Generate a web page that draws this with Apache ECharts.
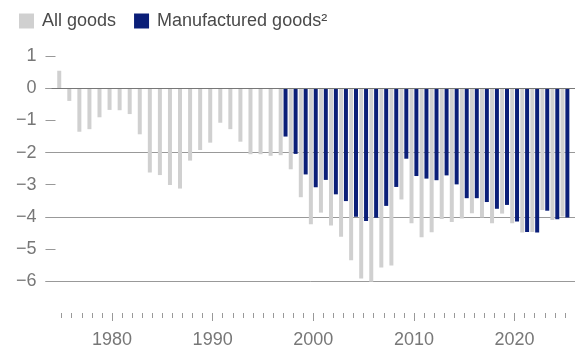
<!DOCTYPE html>
<html>
<head>
<meta charset="utf-8">
<script src="https://cdn.jsdelivr.net/npm/echarts@6/dist/echarts.min.js"></script>
<style>
    html, body { margin: 0; padding: 0; background: #fff; }
    #chart { width: 575px; height: 352px; }
</style>
</head>
<body>
<div id="chart"></div>
<script>
// years of the bars
const years = [
    "1975", "1976", "1977", "1978", "1979", "1980", "1981", "1982", "1983", "1984",
    "1985", "1986", "1987", "1988", "1989", "1990", "1991", "1992", "1993", "1994",
    "1995", "1996", "1997", "1998", "1999", "2000", "2001", "2002", "2003", "2004",
    "2005", "2006", "2007", "2008", "2009", "2010", "2011", "2012", "2013", "2014",
    "2015", "2016", "2017", "2018", "2019", "2020", "2021", "2022", "2023", "2024",
    "2025", "2026"
];

const allGoods = [
    0.55, -0.39, -1.35, -1.27, -0.90, -0.67, -0.68, -0.80, -1.43, -2.62,
    -2.70, -3.01, -3.12, -2.25, -1.92, -1.69, -1.07, -1.27, -1.66, -2.05,
    -2.05, -2.10, -2.08, -2.52, -3.39, -4.23, -3.87, -4.27, -4.62, -5.35,
    -5.92, -6.02, -5.58, -5.52, -3.46, -4.20, -4.64, -4.48, -4.07, -4.16,
    -4.05, -3.89, -4.02, -4.20, -3.90, -4.20, -4.49, -4.47, -3.79, -4.10,
    -3.99, null
];

const manufactured = [
    null, null, null, null, null, null, null, null, null, null,
    null, null, null, null, null, null, null, null, null, null,
    null, null, null, -1.50, -2.04, -2.68, -3.08, -2.85, -3.30, -3.51,
    -4.00, -4.13, -4.03, -3.66, -3.07, -2.19, -2.73, -2.81, -2.86, -2.71,
    -2.99, -3.42, -3.42, -3.54, -3.75, -3.63, -4.15, -4.47, -4.49, -3.81,
    -4.08, -4.02
];

// tick positions on the year axis (year ends), labels only on decades
const tickYears = ["1974"].concat(years);
const decadeLabels = ["1980", "1990", "2000", "2010", "2020"];
const yTicks = [-6, -5, -4, -3, -2, -1, 0, 1];

const GREY = "#d0d0d0";
const NAVY = "#0a1e78";
const FONT = "Liberation Sans, Arial, sans-serif";

const chart = echarts.init(document.getElementById("chart"));

const option = {
    animation: false,
    textStyle: { fontFamily: FONT },
    legend: {
        left: 14,
        top: 7,
        icon: "rect",
        itemWidth: 15,
        itemHeight: 15,
        itemGap: 18,
        data: ["All goods", "Manufactured goods²"],
        textStyle: { fontSize: 18, color: "#4a4a4a", padding: [0, 0, 0, 3] }
    },
    grid: [
        { left: 45.5, right: 0, top: 56.3, bottom: 71 },
        { left: 51.6, right: 0, top: 56.3, bottom: 71 }
    ],
    xAxis: [
        { gridIndex: 0, type: "value", show: false, min: 0, max: 1 },
        { gridIndex: 1, type: "category", data: years, show: false, position: "bottom" },
        {
            gridIndex: 1,
            type: "category",
            data: tickYears,
            boundaryGap: false,
            position: "bottom",
            offset: 32,
            axisLine: { show: false },
            axisTick: {
                show: true,
                length: 5,
                interval: (i, v) => v !== "1974" && v !== "2026",
                lineStyle: { color: "#999" }
            },
            axisLabel: { show: false },
            splitLine: { show: false }
        },
        {
            gridIndex: 1,
            type: "category",
            data: tickYears,
            boundaryGap: false,
            position: "bottom",
            offset: 32,
            axisLine: { show: false },
            axisTick: {
                show: true,
                length: 8,
                interval: (i, v) => decadeLabels.includes(v),
                lineStyle: { color: "#999" }
            },
            axisLabel: {
                interval: (i, v) => decadeLabels.includes(v),
                margin: 18,
                fontSize: 18,
                color: "#777"
            },
            splitLine: { show: false }
        }
    ],
    yAxis: [
        {
            gridIndex: 0,
            type: "value",
            min: yTicks[0],
            max: yTicks[yTicks.length - 1],
            interval: 1,
            axisLine: { show: false },
            axisTick: { show: true, inside: true, length: 10, lineStyle: { color: "#999" } },
            axisLabel: {
                margin: 9,
                fontSize: 18,
                color: "#777",
                formatter: v => (v < 0 ? "\u2212" + (-v) : String(v))
            },
            splitLine: {
                show: true,
                lineStyle: {
                    // lines only at even values
                    color: ["#999", "transparent", "#999", "transparent", "#999", "transparent", "#777", "transparent"]
                }
            }
        },
        {
            gridIndex: 1,
            type: "value",
            min: yTicks[0],
            max: yTicks[yTicks.length - 1],
            interval: 1,
            show: false,
            splitLine: { show: false }
        }
    ],
    series: [
        {
            name: "Manufactured goods²",
            type: "bar",
            xAxisIndex: 1,
            yAxisIndex: 1,
            data: manufactured,
            barWidth: 4,
            barGap: "30%",
            clip: false,
            itemStyle: { color: NAVY }
        },
        {
            name: "All goods",
            type: "bar",
            xAxisIndex: 1,
            yAxisIndex: 1,
            data: allGoods,
            barWidth: 4,
            barGap: "30%",
            clip: false,
            itemStyle: { color: GREY },
            markLine: {
                silent: true,
                symbol: ["none", "none"],
                label: { show: false },
                lineStyle: { color: "#777", width: 1, type: "solid" },
                data: [{ yAxis: 0 }]
            }
        }
    ]
};

chart.setOption(option);
</script>
</body>
</html>
